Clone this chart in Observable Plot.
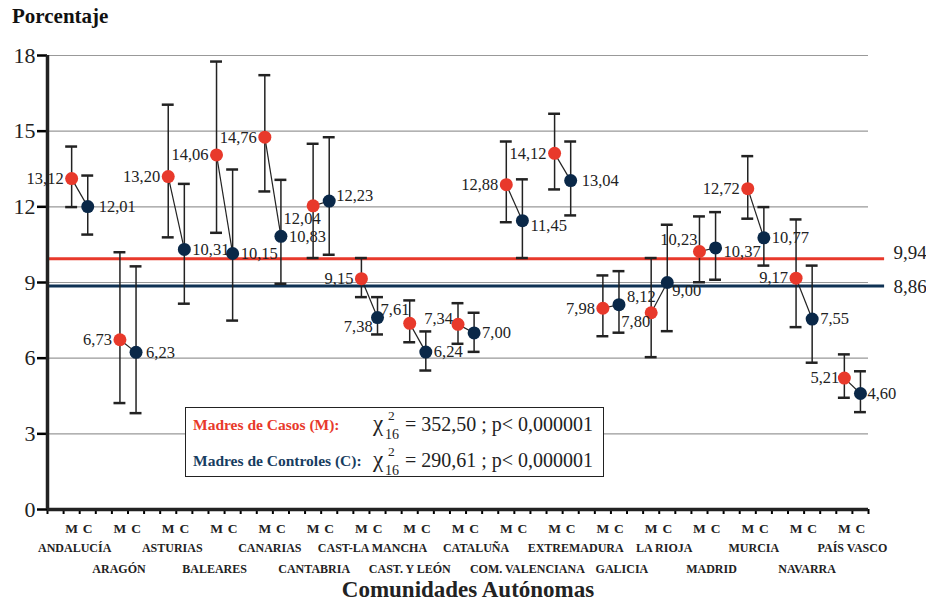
<!DOCTYPE html>
<html>
<head>
<meta charset="utf-8">
<script src="https://cdn.jsdelivr.net/npm/d3@7"></script>
<script src="https://cdn.jsdelivr.net/npm/@observablehq/plot@0.6"></script>
<style>
  html, body { margin: 0; padding: 0; background: #fff; }
  #wrap { position: relative; width: 926px; height: 605px; font-family: "Liberation Serif", "DejaVu Serif", serif; }
  #title { position: absolute; left: 12px; top: 6px; font-size: 21px; font-weight: bold; color: #111; line-height: 1; }
  #legend { position: absolute; left: 185px; top: 407px; width: 419px; height: 70px; border: 1px solid #222; background: #fff; box-sizing: border-box; }
  #legend span { position: absolute; line-height: 1; white-space: nowrap; }
  .lname { font-size: 15.5px; font-weight: bold; }
  .chi { font-size: 23px; color: #222; }
  .sup { font-size: 13.5px; color: #222; }
  .sub { font-size: 14px; color: #222; }
  .eq { font-size: 20px; color: #222; }
</style>
</head>
<body>
<div id="wrap">
  <div id="chart"></div>
  <div id="title">Porcentaje</div>
  <div id="legend"></div>
</div>
<script>
// ---------- Data ----------
const communities = ["ANDALUCÍA","ARAGÓN","ASTURIAS","BALEARES","CANARIAS","CANTABRIA","CAST-LA MANCHA","CAST. Y LEÓN","CATALUÑA","COM. VALENCIANA","EXTREMADURA","GALICIA","LA RIOJA","MADRID","MURCIA","NAVARRA","PAÍS VASCO"];
const casos       = [13.12, 6.73, 13.20, 14.06, 14.76, 12.04, 9.15, 7.38, 7.34, 12.88, 14.12, 7.98, 7.80, 10.23, 12.72, 9.17, 5.21];
const casosLo     = [11.99, 4.22, 10.79, 10.97, 12.61,  9.97, 8.42, 6.63, 6.57, 11.39, 12.69, 6.87, 6.04,  9.01, 11.53, 7.23, 4.43];
const casosHi     = [14.39, 10.20, 16.05, 17.76, 17.22, 14.50, 9.97, 8.29, 8.18, 14.59, 15.69, 9.28, 9.97, 11.62, 14.01, 11.50, 6.15];
const controles   = [12.01, 6.23, 10.31, 10.15, 10.83, 12.23, 7.61, 6.24, 7.00, 11.45, 13.04, 8.12, 9.00, 10.37, 10.77, 7.55, 4.60];
const controlesLo = [10.90, 3.82,  8.16,  7.49,  8.95, 10.10, 6.94, 5.51, 6.25,  9.97, 11.66, 7.01, 7.07,  9.11,  9.67, 5.82, 3.86];
const controlesHi = [13.24, 9.64, 12.91, 13.48, 13.07, 14.76, 8.42, 7.06, 7.80, 13.09, 14.59, 9.45, 11.29, 11.79, 11.99, 9.67, 5.48];
const groupLetters = ["M", "C"];
const groupNames = ["Madres de Casos (M):", "Madres de Controles (C):"];
const medias = [9.94, 8.86];
const chiValues = ["352,50", "290,61"];
const chiDf = "16";
const pText = "p< 0,000001";
const yTicks = [0, 3, 6, 9, 12, 15, 18];
const xTitle = "Comunidades Autónomas";

// ---------- Styling / layout ----------
const RED = "#e8392b", NAVY = "#0a2848", BLUE_LINE = "#0f3254";
const FONT = "Liberation Serif";
const fmt = v => d3.format(".2f")(v).replace(".", ",");
// horizontal nudges (px) of the community names, as in the original layout
const nameNudge = [-5, -9, -4, -10, -3, -7, 3, -8, 10, 13, 13, 11, 5, 4, -2, 3, 0];

// each community occupies 3 slots: gap, M, C
const rows = [];
communities.forEach((c, i) => {
  rows.push({com: c, i, g: groupLetters[0], x: 3 * i + 1.5, v: casos[i], lo: casosLo[i], hi: casosHi[i]});
  rows.push({com: c, i, g: groupLetters[1], x: 3 * i + 2.5, v: controles[i], lo: controlesLo[i], hi: controlesHi[i]});
});
const pairs = communities.map((c, i) => ({com: c, i, x1: 3 * i + 1.5, y1: casos[i], x2: 3 * i + 2.5, y2: controles[i]}));

// label placement tweaks (layout only)
const adjust = {
  "CANTABRIA|M": {dx: -11, dy: 13, anchor: "middle"},
  "CANTABRIA|C": {dx: 7, dy: -5},
  "CAST-LA MANCHA|C": {dx: 3, dy: -8},
  "CAST. Y LEÓN|M": {dx: -37, dy: 3},
  "CATALUÑA|M": {dx: -5, dy: -6},
  "COM. VALENCIANA|C": {dy: 5},
  "GALICIA|C": {dy: -8},
  "LA RIOJA|M": {dx: -1, dy: 9},
  "LA RIOJA|C": {dx: 5, dy: 8},
  "MADRID|M": {dx: -2, dy: -12},
  "MADRID|C": {dy: 4},
  "EXTREMADURA|C": {dx: 11},
  "ANDALUCÍA|C": {dx: 11},
  "ARAGÓN|C": {dx: 10},
  "PAÍS VASCO|M": {dx: -5},
  "PAÍS VASCO|C": {dx: 7}
};

const labelMarks = rows.map(r => {
  const a = adjust[r.com + "|" + r.g] || {};
  const isM = r.g === "M";
  return Plot.text([r], {
    x: "x", y: "v", text: d => fmt(d.v),
    dx: a.dx ?? (isM ? -8 : 8), dy: a.dy ?? 0,
    textAnchor: a.anchor ?? (isM ? "end" : "start"),
    fontSize: 16.5, fontFamily: FONT, fill: "#222"
  });
});

const nameMarks = pairs.map(p => Plot.text([p], {
  x: d => d.x1 + 0.5, y: 0, text: "com",
  dy: p.i % 2 === 0 ? 39 : 60, dx: nameNudge[p.i],
  fontSize: 12, fontWeight: "bold", fontFamily: FONT, fill: "#222"
}));

const CAP = 0.37;

const plot = Plot.plot({
  width: 926, height: 605,
  marginLeft: 47, marginRight: 58, marginTop: 55, marginBottom: 96,
  style: {fontFamily: FONT, background: "white", overflow: "visible"},
  x: {domain: [0, 51], axis: null},
  y: {domain: [0, 18], axis: null},
  marks: [
    Plot.gridY(yTicks, {stroke: "#999", strokeOpacity: 1, strokeWidth: 1.2}),
    // reference means
    Plot.ruleY([medias[0]], {x1: 0, x2: 52, stroke: RED, strokeWidth: 3}),
    Plot.ruleY([medias[1]], {x1: 0, x2: 52, stroke: BLUE_LINE, strokeWidth: 3}),
    Plot.text([medias[0]], {x: 52, y: d => d, text: d => fmt(d), dx: 9, dy: -6, textAnchor: "start", fontSize: 19, fontFamily: FONT, fill: "#222"}),
    Plot.text([medias[1]], {x: 52, y: d => d, text: d => fmt(d), dx: 9, dy: 1, textAnchor: "start", fontSize: 19, fontFamily: FONT, fill: "#222"}),
    // error bars
    Plot.ruleX(rows, {x: "x", y1: "lo", y2: "hi", stroke: "#222", strokeWidth: 1.5}),
    Plot.ruleY(rows, {y: "hi", x1: d => d.x - CAP, x2: d => d.x + CAP, stroke: "#222", strokeWidth: 2.5}),
    Plot.ruleY(rows, {y: "lo", x1: d => d.x - CAP, x2: d => d.x + CAP, stroke: "#222", strokeWidth: 2.5}),
    // connectors
    Plot.link(pairs, {x1: "x1", y1: "y1", x2: "x2", y2: "y2", stroke: "#222", strokeWidth: 1.2}),
    // dots
    Plot.dot(rows, {x: "x", y: "v", r: 6.5, fill: d => d.g === "M" ? RED : NAVY, stroke: "none"}),
    ...labelMarks,
    // axes
    Plot.axisY(yTicks, {tickSize: 10, tickPadding: 2, fontSize: 22, label: null, strokeWidth: 2.5, fill: "#222", tickFormat: d => String(d)}),
    Plot.axisX(d3.range(0, 52), {tickSize: 5, tickFormat: () => "", label: null, strokeWidth: 2}),
    Plot.ruleX([0], {y1: 0, y2: 18, stroke: "#222", strokeWidth: 3.5}),
    Plot.ruleY([0], {x1: 0, x2: 51, stroke: "#222", strokeWidth: 3.5}),
    // M C letters
    Plot.text(rows, {x: "x", y: 0, text: "g", dy: 19, fontSize: 13.5, fontWeight: "bold", fontFamily: FONT, fill: "#222"}),
    // community names in two alternating rows
    ...nameMarks,
    // x title
    Plot.text([xTitle], {frameAnchor: "bottom", text: d => d, dy: 87, dx: 10, fontSize: 23, fontWeight: "bold", fontFamily: FONT, fill: "#222"})
  ]
});
document.getElementById("chart").appendChild(plot);

// legend box (HTML)
const legend = document.getElementById("legend");
const colors = [RED, "#173d61"];
groupNames.forEach((name, k) => {
  const off = k * 36;
  const add = (cls, text, left, top, color) => {
    const s = document.createElement("span");
    s.className = cls;
    s.textContent = text;
    s.style.left = left + "px";
    s.style.top = (top + off) + "px";
    if (color) s.style.color = color;
    legend.appendChild(s);
  };
  add("lname", name, 7, 9, colors[k]);
  add("chi", "χ", 187, 4);
  add("sup", "2", 202, 1);
  add("sub", chiDf, 199, 20);
  add("eq", "= " + chiValues[k] + " ; " + pText, 219, 6);
});
</script>
</body>
</html>
